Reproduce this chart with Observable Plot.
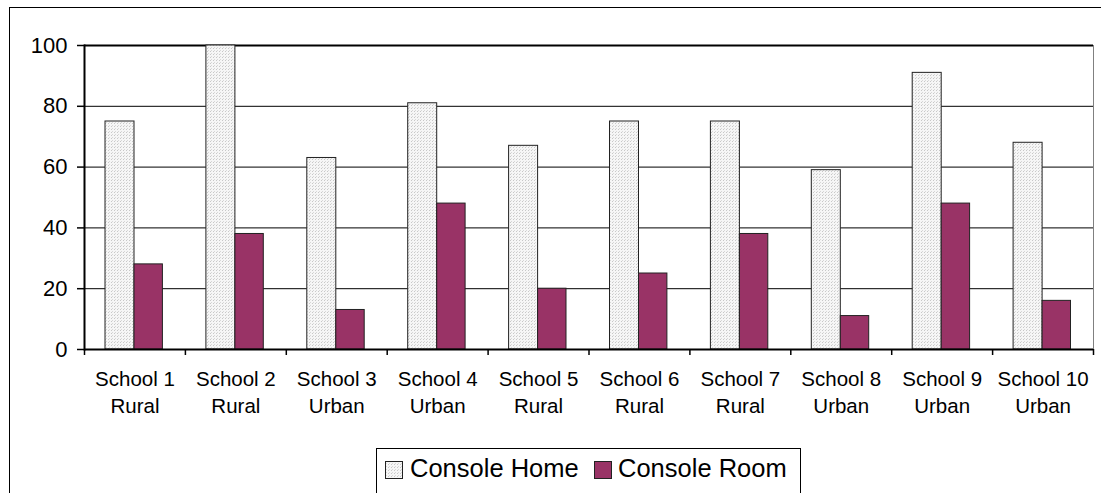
<!DOCTYPE html>
<html>
<head>
<meta charset="utf-8">
<script src="https://cdn.jsdelivr.net/npm/d3@7"></script>
<script src="https://cdn.jsdelivr.net/npm/@observablehq/plot@0.6"></script>
<style>
  html, body { margin: 0; padding: 0; background: #fff; }
  #wrap { position: relative; width: 1101px; height: 493px; overflow: hidden; font-family: Arial, "Liberation Sans", sans-serif; }
  #outer { position: absolute; left: 9px; top: 7px; width: 1200px; height: 600px; border: 1px solid #000; box-sizing: border-box; }
  #chart { position: absolute; left: 0; top: 0; }
  #legend { position: absolute; left: 376px; top: 448px; width: 425px; height: 50px; border: 1px solid #000; box-sizing: border-box; background: #fff;
            font-size: 25.5px; color: #000; }
  #legend .sw { position: absolute; top: 12px; }
  #legend .lab { position: absolute; top: 5px; line-height: 28px; white-space: nowrap; }
</style>
</head>
<body>
<div id="wrap">
  <div id="outer"></div>
  <div id="chart"></div>
  <div id="legend"></div>
</div>
<script>
const schools = ["School 1", "School 2", "School 3", "School 4", "School 5", "School 6", "School 7", "School 8", "School 9", "School 10"];
const areas = ["Rural", "Rural", "Urban", "Urban", "Rural", "Rural", "Rural", "Urban", "Urban", "Urban"];
const consoleHome = [75, 100, 63, 81, 67, 75, 75, 59, 91, 68];
const consoleRoom = [28, 38, 13, 48, 20, 25, 38, 11, 48, 16];
const seriesNames = ["Console Home", "Console Room"];
const yTicks = [0, 20, 40, 60, 80, 100];

const data = schools.map((s, i) => ({school: s, area: areas[i], home: consoleHome[i], room: consoleRoom[i]}));
const labelOf = new Map(schools.map((s, i) => [s, s + "\n" + areas[i]]));

const W = 1101, H = 447, mL = 84, mR = 8, mT = 45, mB = 98;
const step = (W - mL - mR) / schools.length;
const roomColor = "#993366";
const homeFill = "url(#dots)";

const plot = Plot.plot({
  width: W, height: H,
  marginLeft: mL, marginRight: mR, marginTop: mT, marginBottom: mB,
  style: {fontFamily: "Arial, 'Liberation Sans', sans-serif", background: "transparent", color: "#000"},
  x: {domain: schools, padding: 0, round: false, label: null},
  y: {domain: [0, 100], label: null},
  marks: [
    Plot.gridY(yTicks, {stroke: "#000", strokeOpacity: 1, strokeWidth: 1}),
    Plot.ruleY([100], {stroke: "#000", strokeWidth: 2}),
    Plot.frame({anchor: "right", stroke: "#808080", strokeWidth: 1}),
    Plot.barY(data, {x: "school", y: "home", fill: homeFill, stroke: "#222", strokeWidth: 1, insetLeft: 21, insetRight: step - 50}),
    Plot.barY(data, {x: "school", y: "room", fill: roomColor, stroke: "#222", strokeWidth: 1, insetLeft: 50, insetRight: 22.5}),
    Plot.ruleY([0], {stroke: "#000", strokeWidth: 2}),
    Plot.frame({anchor: "left", stroke: "#000", strokeWidth: 2}),
    Plot.ruleX(schools, {x: d => d, y1: 0, y2: 0, dx: -step / 2, insetBottom: -6, stroke: "#000", strokeWidth: 1.5}),
    Plot.ruleX([schools[schools.length - 1]], {x: d => d, y1: 0, y2: 0, dx: step / 2, insetBottom: -6, stroke: "#000", strokeWidth: 1.5}),
    Plot.axisY({ticks: yTicks, tickSize: 7, tickPadding: 10, fontSize: 22, stroke: "#000", strokeWidth: 1.5, tickFormat: d => String(d)}),
    Plot.axisX({tickSize: 0, tickPadding: 17, fontSize: 20.5, lineHeight: 1.32, tickFormat: d => labelOf.get(d)})
  ]
});

// dotted fill pattern for "Console Home"
const svg = d3.select(plot);
const defs = svg.insert("defs", ":first-child");
const pat = defs.append("pattern").attr("id", "dots").attr("patternUnits", "userSpaceOnUse").attr("width", 3).attr("height", 3);
pat.append("rect").attr("width", 3).attr("height", 3).attr("fill", "#f6f6f6");
pat.append("rect").attr("x", 0).attr("y", 0).attr("width", 1).attr("height", 1).attr("fill", "#c8c8c8");
pat.append("rect").attr("x", 1).attr("y", 2).attr("width", 1).attr("height", 1).attr("fill", "#d8d8d8");
document.getElementById("chart").appendChild(plot);

// legend (positions inside the legend box)
const legend = d3.select("#legend");
const fills = [homeFill, roomColor];
const swLeft = [8, 217];
const labLeft = [33, 241];
seriesNames.forEach((name, i) => {
  const sw = legend.append("svg").attr("class", "sw").style("left", swLeft[i] + "px")
    .attr("width", 19).attr("height", 19);
  sw.append("rect").attr("x", 0.5).attr("y", 0.5).attr("width", 17).attr("height", 17)
    .attr("fill", fills[i]).attr("stroke", "#222").attr("stroke-width", 1);
  legend.append("span").attr("class", "lab").style("left", labLeft[i] + "px").text(name);
});
</script>
</body>
</html>
